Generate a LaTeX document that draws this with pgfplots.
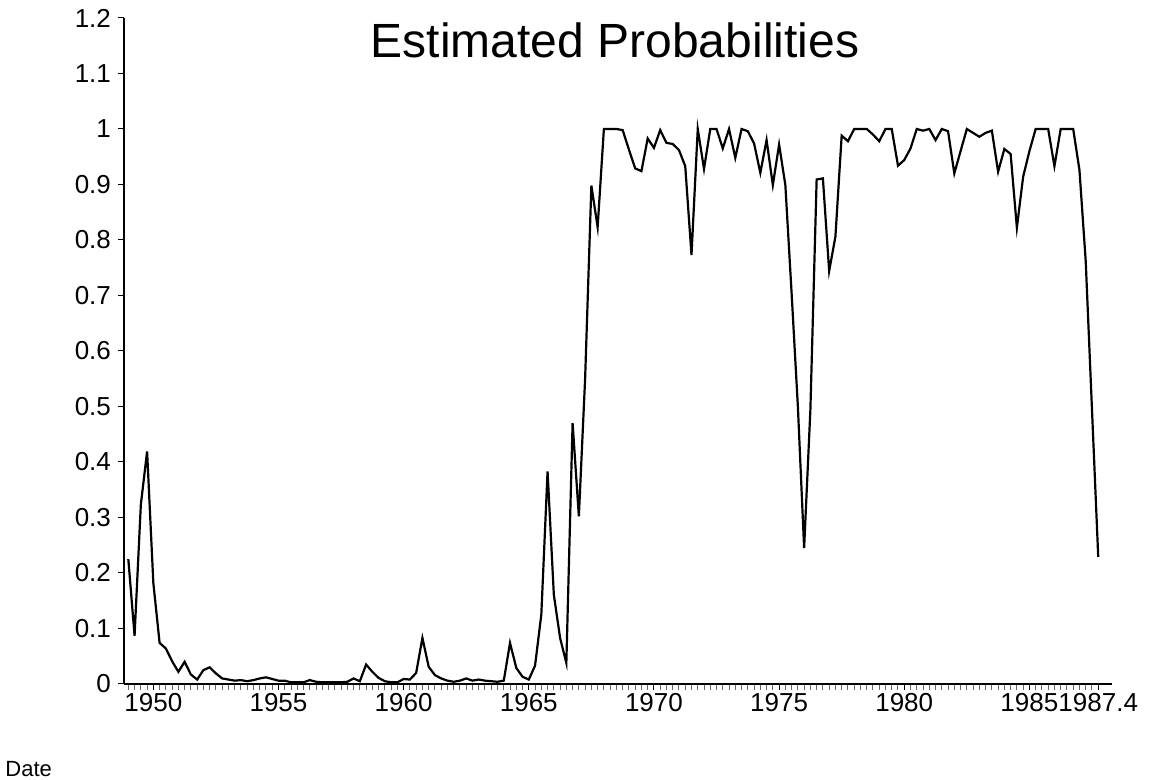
\documentclass[border=0pt]{standalone}
\usepackage{pgfplots}
\pgfplotsset{compat=1.18}
\usepackage{fontspec}
\setmainfont{Liberation Sans}
\pgfplotstableread{
i p
0 0.225
1 0.087
2 0.323
3 0.419
4 0.182
5 0.074
6 0.064
7 0.041
8 0.022
9 0.040
10 0.017
11 0.008
12 0.025
13 0.030
14 0.019
15 0.010
16 0.008
17 0.006
18 0.007
19 0.005
20 0.007
21 0.010
22 0.012
23 0.009
24 0.006
25 0.006
26 0.003
27 0.003
28 0.003
29 0.007
30 0.004
31 0.003
32 0.003
33 0.003
34 0.003
35 0.004
36 0.010
37 0.005
38 0.035
39 0.022
40 0.011
41 0.005
42 0.003
43 0.003
44 0.009
45 0.008
46 0.020
47 0.083
48 0.031
49 0.016
50 0.010
51 0.006
52 0.004
53 0.006
54 0.010
55 0.006
56 0.008
57 0.006
58 0.005
59 0.004
60 0.006
61 0.074
62 0.029
63 0.013
64 0.008
65 0.033
66 0.125
67 0.383
68 0.161
69 0.083
70 0.038
71 0.470
72 0.302
73 0.550
74 0.898
75 0.823
76 1.000
77 1.000
78 1.000
79 0.998
80 0.963
81 0.929
82 0.924
83 0.983
84 0.966
85 0.998
86 0.975
87 0.973
88 0.962
89 0.933
90 0.773
91 1.000
92 0.928
93 1.000
94 1.000
95 0.965
96 1.000
97 0.948
98 1.000
99 0.996
100 0.974
101 0.921
102 0.980
103 0.899
104 0.972
105 0.899
106 0.704
107 0.500
108 0.245
109 0.494
110 0.909
111 0.911
112 0.744
113 0.806
114 0.988
115 0.978
116 1.000
117 1.000
118 1.000
119 0.990
120 0.978
121 1.000
122 1.000
123 0.934
124 0.944
125 0.965
126 1.000
127 0.997
128 1.000
129 0.980
130 1.000
131 0.996
132 0.920
133 0.960
134 1.000
135 0.993
136 0.986
137 0.993
138 0.997
139 0.923
140 0.964
141 0.955
142 0.822
143 0.914
144 0.960
145 1.000
146 1.000
147 1.000
148 0.933
149 1.000
150 1.000
151 1.000
152 0.926
153 0.762
154 0.495
155 0.229
}\probs
\begin{document}
\begin{tikzpicture}
\begin{axis}[
  name=ax,
  scale only axis,
  width=494pt, height=333pt,
  xmin=-0.69, xmax=157.2,
  ymin=0, ymax=1.2,
  axis x line*=bottom,
  axis y line*=left,
  axis line style={line width=0.7pt, -},
  xtick={4,24,44,64,84,104,124,144,155},
  xticklabels={1950,1955,1960,1965,1970,1975,1980,1985,1987.4},
  minor xtick={0,1,...,155},
  ytick={0,0.1,...,1.2},
  yticklabels={0,0.1,0.2,0.3,0.4,0.5,0.6,0.7,0.8,0.9,1,1.1,1.2},
  tick align=outside,
  major tick length=3pt,
  minor tick length=3pt,
  every tick/.style={black, line width=0.5pt},
  every minor tick/.style={black!60, line width=0.5pt},
  x tick label style={font=\fontsize{13}{13}\selectfont, yshift=2pt},
  y tick label style={font=\fontsize{13}{13}\selectfont},
  clip=false,
]
\addplot[black, line width=1.1pt, line join=miter] table[x=i, y=p] {\probs};
\node[font=\fontsize{24}{24}\selectfont, anchor=center] at (rel axis cs:0.497,0.966) {Estimated Probabilities};
\end{axis}
\node[font=\fontsize{11}{11}\selectfont, anchor=west, inner sep=0pt] at ([xshift=-59.5pt,yshift=-42.5pt]ax.south west) {Date};
\path[use as bounding box] ([xshift=-62pt,yshift=-48pt]ax.south west) rectangle ([xshift=20.5pt,yshift=9pt]ax.north east);
\end{tikzpicture}
\end{document}
